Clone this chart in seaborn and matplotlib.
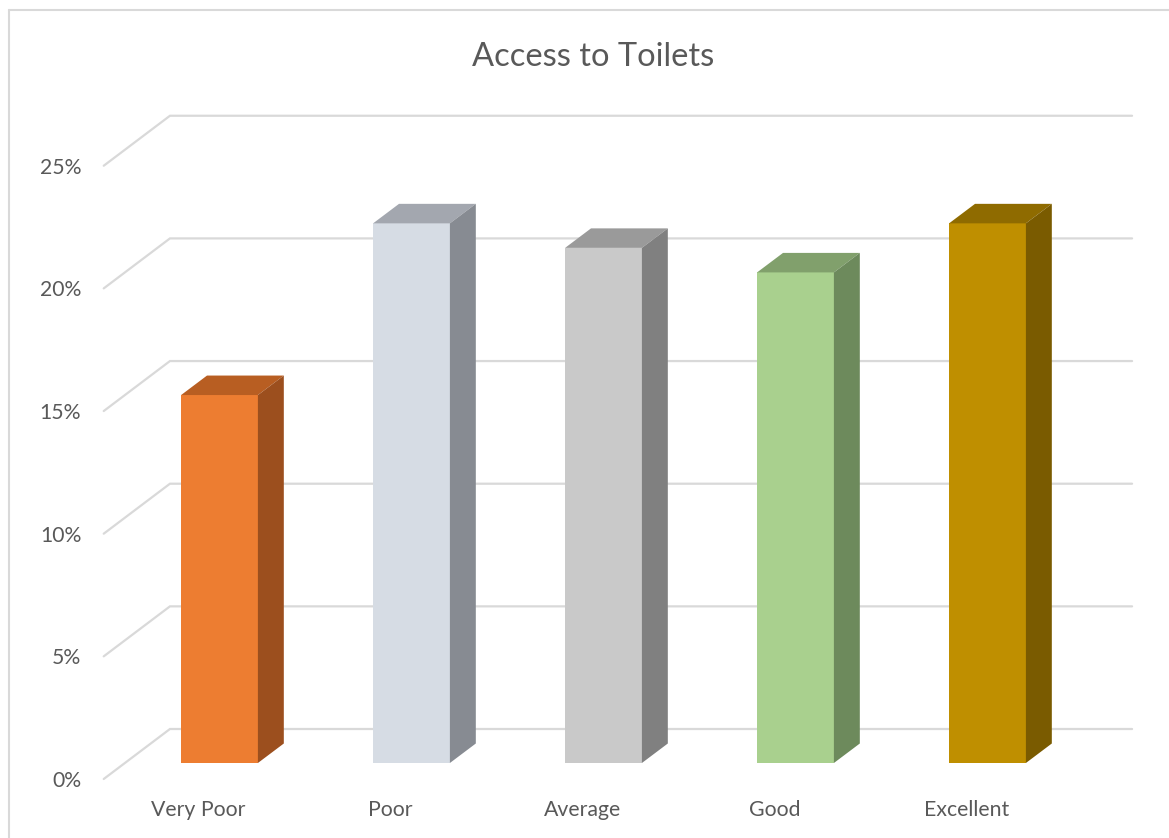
import matplotlib
matplotlib.use('Agg')
import pandas as pd
import matplotlib.pyplot as plt
import seaborn as sns
from matplotlib.patches import Polygon
from matplotlib.lines import Line2D

sns.set_theme(style='white')
plt.rcParams['font.family'] = ['Lato', 'DejaVu Sans']

categories = ['Very Poor', 'Poor', 'Average', 'Good', 'Excellent']
values = [15, 22, 21, 20, 22]
yticks = [0, 5, 10, 15, 20, 25]
ytick_labels = ['0%', '5%', '10%', '15%', '20%', '25%']
title = 'Access to Toilets'

front_colors = ['#ED7D31', '#D6DCE4', '#C9C9C9', '#A9D08E', '#BF8F00']
top_colors = ['#B85E22', '#A3A7AF', '#9A9A9A', '#81A06C', '#8F6B00']
side_colors = ['#9C4F1E', '#878B92', '#808080', '#6D8A5C', '#7A5B00']

# fake 3d: depth offsets in data units
bar_dx, bar_dy = 0.135, 0.795        # depth of one bar
back_dx, back_dy = 0.236, 1.386      # back wall vs bar fronts
front_dx, front_dy = -0.109, -0.652  # front edge of floor / side wall
wall_left, wall_right = -0.258, 4.753
grid_col = '#D9D9D9'
text_col = '#595959'

df = pd.DataFrame({'category': categories, 'value': values})

fig = plt.figure(figsize=(11.69, 8.38), dpi=100)
ax = fig.add_axes([0, 0, 1, 1])
sns.barplot(data=df, x='category', y='value', hue='category', palette=front_colors,
            saturation=1, width=0.4, linewidth=0, legend=False, ax=ax, zorder=3)

# top and side faces of each bar
bars = sorted(ax.patches, key=lambda p: p.get_x())
for p, tc, sc in zip(bars, top_colors, side_colors):
    x0, w, h = p.get_x(), p.get_width(), p.get_height()
    top = [(x0, h), (x0 + w, h), (x0 + w + bar_dx, h + bar_dy), (x0 + bar_dx, h + bar_dy)]
    side = [(x0 + w, 0), (x0 + w + bar_dx, bar_dy), (x0 + w + bar_dx, h + bar_dy), (x0 + w, h)]
    ax.add_patch(Polygon(top, closed=True, facecolor=tc, edgecolor='none', zorder=3))
    ax.add_patch(Polygon(side, closed=True, facecolor=sc, edgecolor='none', zorder=3))

# back wall gridlines + side wall diagonals
for v, lab in zip(yticks, ytick_labels):
    ax.plot([wall_left - (back_dx - front_dx), wall_left, wall_right],
            [v + front_dy, v + back_dy, v + back_dy],
            color=grid_col, lw=1.6, zorder=1, solid_joinstyle='miter')
    ax.text(-0.72, v + front_dy - 0.08, lab, ha='right', va='center', fontsize=15.2, color=text_col)

for i, c in enumerate(categories):
    ax.text(i + front_dx, -1.92, c, ha='center', va='center', fontsize=15.3, color=text_col)

ax.set_xlim(-1.1432, 4.9453)
ax.set_ylim(-3.0575, 31.105)
ax.axis('off')

fig.text(593 / 1169, 1 - 57 / 838, title, ha='center', va='center', fontsize=23.5, color=text_col)

# chart border (only left/top visible in the crop)
fig.add_artist(Line2D([9 / 1169, 9 / 1169], [0, 1 - 10 / 838], transform=fig.transFigure,
                      color=grid_col, lw=1.5))
fig.add_artist(Line2D([9 / 1169, 1], [1 - 10 / 838, 1 - 10 / 838], transform=fig.transFigure,
                      color=grid_col, lw=1.5))

fig.savefig('out.png', dpi=100)
